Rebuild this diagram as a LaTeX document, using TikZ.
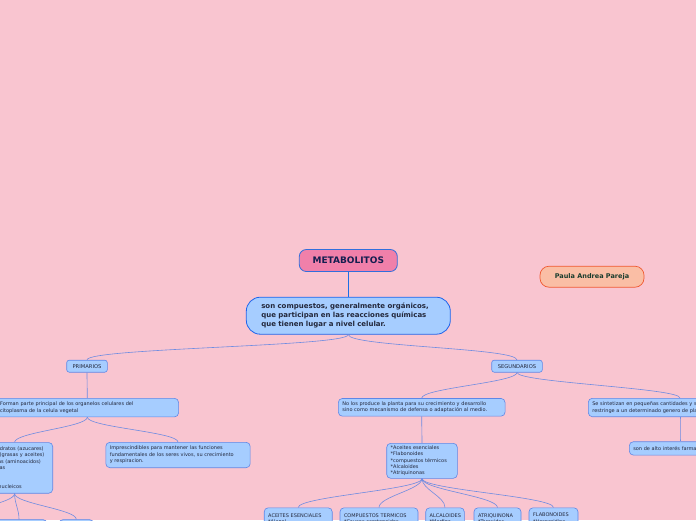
\documentclass[tikz,border=0pt]{standalone}
\usepackage{fontspec}
\setmainfont{DejaVu Sans}
\usetikzlibrary{calc}

\definecolor{bgpink}{RGB}{249,197,208}
\definecolor{rootpink}{RGB}{240,128,170}
\definecolor{rootline}{RGB}{50,110,220}
\definecolor{boxblue}{RGB}{166,205,255}
\definecolor{mainline}{RGB}{30,100,235}
\definecolor{leafline}{RGB}{95,135,230}
\definecolor{linkblue}{RGB}{110,140,225}
\definecolor{trunkblue}{RGB}{30,110,230}
\definecolor{namefill}{RGB}{250,190,165}
\definecolor{nameline}{RGB}{240,90,50}
\definecolor{inkdark}{RGB}{35,40,60}
\definecolor{inknavy}{RGB}{20,30,80}
\definecolor{inkgreen}{RGB}{25,60,45}

\newcommand{\leaffont}{\fontsize{5}{6.4}\selectfont}

\begin{document}
\begin{tikzpicture}[x=1pt,y=1pt,
  root/.style={draw=rootline,line width=.8pt,fill=rootpink,rounded corners=7pt,
    minimum width=98pt,minimum height=22pt,inner sep=0pt,
    font=\fontsize{9}{10}\selectfont\bfseries,text=inknavy},
  desc/.style={draw=mainline,line width=.8pt,fill=boxblue,rounded corners=14pt,
    inner xsep=15pt,inner ysep=0pt,text width=174pt,minimum height=37pt,align=left,
    font=\fontsize{7}{8.8}\selectfont\bfseries,text=inkdark},
  namebox/.style={draw=nameline,line width=.7pt,fill=namefill,rounded corners=9pt,
    minimum width=104pt,minimum height=21pt,inner sep=0pt,
    font=\fontsize{6.5}{8}\selectfont\bfseries,text=inkgreen},
  tag/.style={draw=leafline,line width=.6pt,fill=boxblue,rounded corners=2.5pt,
    minimum height=12pt,inner sep=0pt,font=\fontsize{5.2}{6}\selectfont,text=inkdark},
  leaf/.style={draw=leafline,line width=.6pt,fill=boxblue,rounded corners=4pt,
    inner xsep=4pt,inner ysep=0pt,align=left,font=\leaffont,text=inkdark},
  trunk/.style={draw=trunkblue,line width=1.3pt},
  link/.style={draw=linkblue,line width=.6pt,
    to path={.. controls ($(\tikztostart)+(0,-#1)$) and ($(\tikztotarget)+(0,#1)$) .. (\tikztotarget)}},
  link/.default=9]
\useasboundingbox (0,0) rectangle (696,-520);
\fill[bgpink] (0,0) rectangle (696,-520);
\clip (0,0) rectangle (696,-520);

% centre
\node[root] (meta) at (348.3,-260.5) {METABOLITOS};
\node[desc] (def) at (348.3,-315.7) {son compuestos, generalmente orgánicos,\\que participan en las reacciones químicas\\que tienen lugar a nivel celular.};
\node[namebox] (author) at (592,-276.7) {Paula Andrea Pareja};

% two branches
\node[tag,minimum width=40.6pt] (prim) at (87,-366.2) {PRIMARIOS};
\node[tag,minimum width=50.6pt] (segu) at (517,-366.2) {SEGUNDARIOS};

% primarios
\node[leaf,text width=174.5pt,minimum height=18.5pt] (forman) at (87.3,-407.6) {Forman parte principal de los organelos celulares del\\citoplasma de la celula vegetal};
\node[leaf,text width=68.2pt,minimum height=50.7pt] (prods) at (14.6,-467.9) {Carbohidratos (azucares)\\Lipidos (grasas y aceites)\\Proteinas (aminoacidos)\\Vitaminas\\[12.8pt]Acidos nucleicos};
\node[leaf,text width=136.3pt,minimum height=25.4pt] (impres) at (178,-455) {Imprescindibles para mantener las funciones\\fundamentales de los seres vivos, su crecimiento\\y respiracion.};
\node[leaf,anchor=north,minimum width=56pt,minimum height=20pt] (sub1) at (19,-519.3) {};
\node[leaf,anchor=north,minimum width=34.5pt,minimum height=20pt] (sub2) at (76.3,-519.3) {};
\coordinate (sub0) at (-40,-519.3);

% segundarios
\node[leaf,text width=158.7pt,minimum height=17.7pt] (produce) at (421.7,-407.3) {No los produce la planta para su crecimiento y desarrollo\\sino como mecanismo de defensa o adaptación al medio.};
\node[leaf,text width=175.4pt,minimum height=18.4pt] (sinte) at (680,-407.5) {Se sintetizan en pequeñas cantidades y su producción se\\restringe a un determinado genero de plantas};
\node[leaf,text width=93.4pt,minimum height=13.3pt] (interes) at (680,-448.4) {son de alto interés farmacéutico};
\node[leaf,text width=62.6pt,minimum height=35pt] (tipos) at (422,-460.8) {*Aceites esenciales\\{}*Flabonoides\\{}*compuestos térmicos\\{}*Alcaloides\\{}*Atriquinonas};

% bottom row
\node[leaf,anchor=north,inner ysep=2.5pt,text width=60pt,minimum height=22pt] (aceites) at (298.2,-507.5) {ACEITES ESENCIALES\\{}*Alanol};
\node[leaf,anchor=north,inner ysep=2.5pt,text width=70pt,minimum height=22pt] (termicos) at (379,-507.5) {COMPUESTOS TERMICOS\\{}*Caucos carotenoides};
\node[leaf,anchor=north,inner ysep=2.5pt,text width=30.6pt,minimum height=22pt] (alcal) at (445,-507.5) {ALCALOIDES\\{}*Morfina};
\node[leaf,anchor=north,inner ysep=2.5pt,text width=39pt,minimum height=22pt] (atriq) at (497.5,-507.5) {ATRIQUINONA\\{}*Taraxidos};
\node[leaf,anchor=north,inner ysep=2.5pt,text width=41pt,minimum height=22pt] (flabo) at (553.5,-507.5) {FLABONOIDES\\{}*Hesperidina};

% connectors
\draw[trunk] (meta.south) -- (def.north);
\draw[link=12] (def.south) to (prim.north);
\draw[link=12] (def.south) to (segu.north);
\draw[link] (prim.south) to (forman.north);
\draw[link=10] (forman.south) to (prods.north);
\draw[link=10] (forman.south) to (impres.north);
\draw[link=10] (prods.south) to (sub0);
\draw[link=10] (prods.south) to (sub1.north);
\draw[link=10] (prods.south) to (sub2.north);
\draw[link=10] (segu.south) to (produce.north);
\draw[link=10] (segu.south) to (sinte.north);
\draw[link] (produce.south) to (tipos.north);
\draw[link] (sinte.south) to (interes.north);
\foreach \leafname in {aceites,termicos,alcal,atriq,flabo}
  \draw[link=11] (tipos.south) to (\leafname.north);
\end{tikzpicture}
\end{document}
